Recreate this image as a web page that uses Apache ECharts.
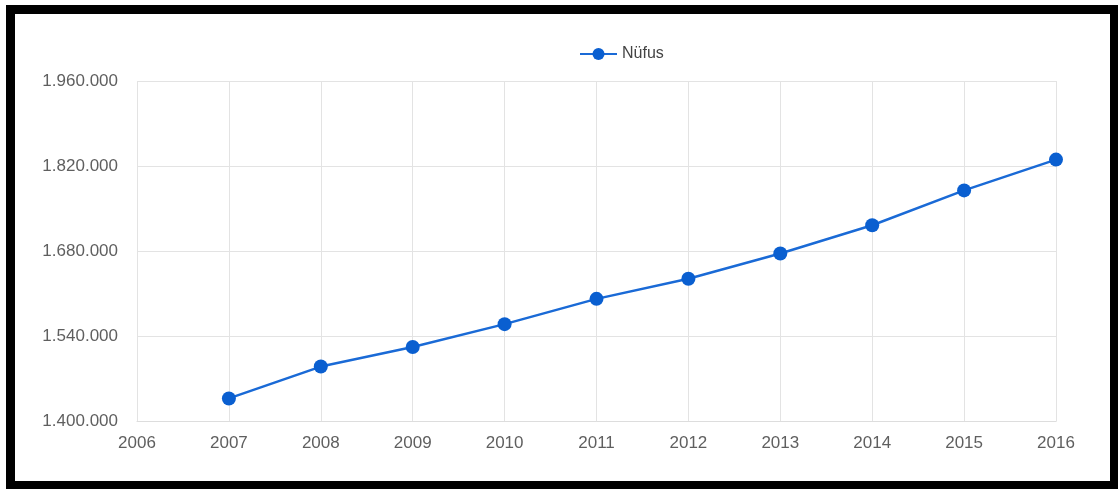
<!DOCTYPE html>
<html>
<head>
<meta charset="utf-8">
<script src="https://cdn.jsdelivr.net/npm/echarts@6/dist/echarts.min.js"></script>
<style>
html,body{margin:0;padding:0;background:#fff;}
#frame{position:absolute;left:6px;top:5px;width:1113px;height:485px;box-sizing:border-box;border:9px solid #000;}
#chart{position:absolute;left:0;top:0;width:1118px;height:489px;}
</style>
</head>
<body>
<div id="chart"></div>
<div id="frame"></div>
<script>
const years = [2007, 2008, 2009, 2010, 2011, 2012, 2013, 2014, 2015, 2016];
const nufus = [1437926, 1490358, 1522408, 1560138, 1601720, 1634691, 1676202, 1722795, 1780055, 1830772];
const seriesName = 'Nüfus';

const chart = echarts.init(document.getElementById('chart'));
const fmt = v => String(v).replace(/\B(?=(\d{3})+(?!\d))/g, '.');
chart.setOption({
  animation: false,
  textStyle: {fontFamily: 'Liberation Sans, Arial, sans-serif'},
  legend: {
    top: 41, left: 574,
    itemWidth: 37, itemHeight: 15, itemGap: 8,
    textStyle: {color: '#444', fontSize: 16, fontFamily: 'Liberation Sans, Arial, sans-serif'},
    data: [seriesName]
  },
  grid: {left: 137, right: 62, top: 81, bottom: 67.5},
  xAxis: {
    type: 'value', min: 2006, max: 2016, interval: 1,
    axisLine: {show: true, lineStyle: {color: '#ddd', width: 1}},
    axisTick: {show: false},
    splitLine: {show: true, lineStyle: {color: '#e3e3e3', width: 1}},
    axisLabel: {color: '#5f5f5f', fontSize: 17, margin: 13, formatter: v => String(v)}
  },
  yAxis: {
    type: 'value', min: 1400000, max: 1960000, interval: 140000,
    axisLine: {show: false},
    axisTick: {show: false},
    splitLine: {show: true, lineStyle: {color: '#e3e3e3', width: 1}},
    axisLabel: {color: '#5f5f5f', fontSize: 17, margin: 19, formatter: v => fmt(v)}
  },
  series: [{
    name: seriesName,
    type: 'line',
    data: years.map((y, i) => [y, nufus[i]]),
    symbol: 'circle', symbolSize: 14,
    lineStyle: {color: '#1a6ad6', width: 2.5},
    itemStyle: {color: '#0a5fd0'}
  }]
});
</script>
</body>
</html>
